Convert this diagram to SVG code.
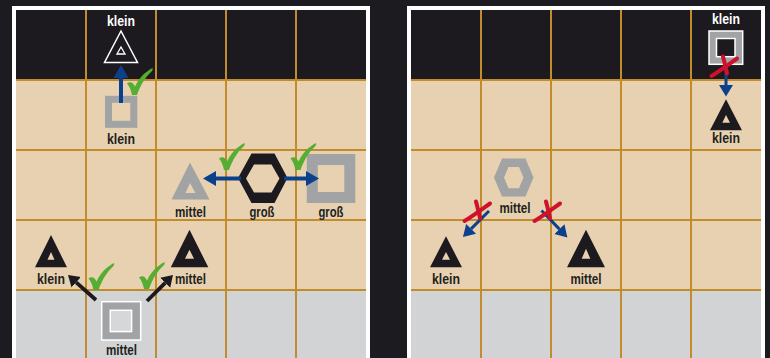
<svg xmlns="http://www.w3.org/2000/svg" width="770" height="358" viewBox="0 0 770 358">
<style>
.bg{fill:#1c1b20}
.frame{fill:#ffffff}
.dark{fill:#1c1a1f}
.tan{fill:#e7d1b0}
.lgray{fill:#d2d3d5}
.grid{stroke:#c28b2c;stroke-width:2;fill:none}
.lbl{font-family:"Liberation Sans",Arial,sans-serif;font-weight:bold;font-size:14.5px;text-anchor:middle;fill:#231f20}
.lblw{fill:#ffffff}
.blk{fill:#1c1a1f;fill-rule:evenodd}
.gry{fill:#a2a3a5;fill-rule:evenodd}
.sqg{fill:none;stroke:#a2a3a5}
.blue{stroke:#0b408c;fill:none}
.black{stroke:#1c1a1f;fill:none}
.chk{fill:#55ad32}
.rx{stroke:#d0112b;stroke-width:4;stroke-linecap:round;fill:none}
</style>
<defs>
<marker id="hb" markerUnits="userSpaceOnUse" markerWidth="14" markerHeight="16" refX="0" refY="0" viewBox="0 -8 14 16" orient="auto"><path d="M0,-7.5 L13,0 L0,7.5 Z" fill="#0b408c"/></marker>
<marker id="hbs" markerUnits="userSpaceOnUse" markerWidth="14" markerHeight="16" refX="0" refY="0" viewBox="0 -8 14 16" orient="auto"><path d="M0,-7 L11.5,0 L0,7 Z" fill="#0b408c"/></marker>
<marker id="hk" markerUnits="userSpaceOnUse" markerWidth="14" markerHeight="16" refX="0" refY="0" viewBox="0 -8 14 16" orient="auto"><path d="M0,-7 L11,0 L0,7 Z" fill="#1c1a1f"/></marker>
<path id="check" d="M0,15.5 C3,13 6,14 8,18.5 C12,10 18,4 25.5,0 C26,1.5 25.5,2.5 24.5,3.5 C18.5,9 13.5,17 10,27 L5,27 C4,22 2.5,18.5 0,15.5 Z"/>
<g id="xmark"><path d="M-13,8.5 C-4,3 4,-3 12.5,-9"/><path d="M-1.5,-11 C0,-5 1.5,0 2.5,6"/></g>
</defs>
<rect class="bg" x="0" y="0" width="770" height="358"/>

<!-- left panel board -->
<g id="board-left">
<rect class="frame" x="12" y="6" width="358" height="352"/>
<rect class="dark" x="16" y="10" width="350" height="70"/>
<rect class="tan" x="16" y="80" width="350" height="210"/>
<rect class="lgray" x="16" y="290" width="350" height="68"/>
<path class="grid" d="M86,10V358M156,10V358M226,10V358M296,10V358M16,80H366M16,150H366M16,220H366M16,290H366"/>
</g>

<!-- right panel board -->
<g id="board-right">
<rect class="frame" x="407" y="6" width="358" height="352"/>
<rect class="dark" x="411" y="10" width="350" height="70"/>
<rect class="tan" x="411" y="80" width="350" height="210"/>
<rect class="lgray" x="411" y="290" width="350" height="68"/>
<path class="grid" d="M481,10V358M551,10V358M621,10V358M691,10V358M411,80H761M411,150H761M411,220H761M411,290H761"/>
</g>

<!-- left panel nodes -->
<g id="L-top-triangle">
<polygon points="121,31 104.5,62.5 137.5,62.5" fill="#1c1a1f" stroke="#ffffff" stroke-width="1.5"/>
<polygon points="121,47 117,54 125,54" fill="none" stroke="#ffffff" stroke-width="1.3"/>
<text class="lbl lblw" x="121" y="25.5" textLength="28" lengthAdjust="spacingAndGlyphs">klein</text>
</g>
<g id="L-small-square">
<rect class="sqg" x="108.5" y="99.3" width="25.3" height="25" stroke-width="7"/>
<text class="lbl" x="121" y="144" textLength="28" lengthAdjust="spacingAndGlyphs">klein</text>
</g>
<g id="L-gray-triangle">
<path class="gry" d="M190,162.5 L171.5,199.5 L209.5,199.5 Z M190,183 L185.5,193 L195.5,193 Z"/>
<text class="lbl" x="190.5" y="217" textLength="31" lengthAdjust="spacingAndGlyphs">mittel</text>
</g>
<g id="L-hexagon">
<path class="blk" d="M238,178 L251.5,153.5 L274.5,153.5 L287.5,178 L274.5,203 L251.5,203 Z M246,178.5 L254,164.5 L271.5,164.5 L279.5,178.5 L271.5,192.5 L254,192.5 Z"/>
<text class="lbl" x="262" y="217" textLength="25" lengthAdjust="spacingAndGlyphs">groß</text>
</g>
<g id="L-big-square">
<rect class="sqg" x="312.3" y="159.5" width="37.5" height="38" stroke-width="11"/>
<text class="lbl" x="331" y="217" textLength="25" lengthAdjust="spacingAndGlyphs">groß</text>
</g>
<g id="L-small-triangle">
<path class="blk" d="M51,235 L35,267.3 L67,267.3 Z M51,252 L47.5,259.7 L54.5,259.7 Z"/>
<text class="lbl" x="51" y="283.7" textLength="28" lengthAdjust="spacingAndGlyphs">klein</text>
</g>
<g id="L-mid-triangle">
<path class="blk" d="M189.5,229.7 L170.8,267.3 L208.3,267.3 Z M189.5,249.7 L185,258.7 L194,258.7 Z"/>
<text class="lbl" x="190.5" y="283.7" textLength="31" lengthAdjust="spacingAndGlyphs">mittel</text>
</g>
<g id="L-bottom-square">
<rect x="101.7" y="301.7" width="39" height="38.3" fill="#a2a3a5" stroke="#ffffff" stroke-width="1.5"/>
<rect x="110.3" y="310.3" width="21.3" height="21.3" fill="#d6d7d9" stroke="#ffffff" stroke-width="1.5"/>
<text class="lbl" x="121.5" y="355" textLength="31" lengthAdjust="spacingAndGlyphs">mittel</text>
</g>

<!-- right panel nodes -->
<g id="R-top-square">
<rect x="709" y="31" width="33.7" height="33.3" fill="#a2a3a5" stroke="#ffffff" stroke-width="1.5"/>
<rect x="716.5" y="38.5" width="18.5" height="18.2" fill="#1c1a1f" stroke="#ffffff" stroke-width="1.5"/>
<text class="lbl lblw" x="726" y="24" textLength="28" lengthAdjust="spacingAndGlyphs">klein</text>
</g>
<g id="R-top-triangle">
<path class="blk" d="M726,99.3 L710,130.3 L742,130.3 Z M726,115 L722.3,122.7 L730,122.7 Z"/>
<text class="lbl" x="726" y="143.3" textLength="28" lengthAdjust="spacingAndGlyphs">klein</text>
</g>
<g id="R-hexagon">
<path class="gry" d="M494,177.5 L502,158.5 L525.5,158.5 L533.5,177.5 L525.5,196.5 L502,196.5 Z M504,177.5 L508.5,167 L519,167 L523.5,177.5 L519,188.3 L508.5,188.3 Z"/>
<text class="lbl" x="515" y="213" textLength="31" lengthAdjust="spacingAndGlyphs">mittel</text>
</g>
<g id="R-small-triangle">
<path class="blk" d="M446,236.3 L430,267.3 L462,267.3 Z M446,252 L442,259.7 L450,259.7 Z"/>
<text class="lbl" x="446" y="283.7" textLength="28" lengthAdjust="spacingAndGlyphs">klein</text>
</g>
<g id="R-mid-triangle">
<path class="blk" d="M586,229.7 L567,267.3 L605,267.3 Z M586,248.7 L581.7,258.7 L590.3,258.7 Z"/>
<text class="lbl" x="586" y="283.7" textLength="31" lengthAdjust="spacingAndGlyphs">mittel</text>
</g>

<!-- connectors -->
<g id="connectors">
<line class="blue" x1="121" y1="103" x2="121" y2="78" stroke-width="4" marker-end="url(#hb)"/>
<line class="blue" x1="241" y1="178.5" x2="216" y2="178.5" stroke-width="4" marker-end="url(#hb)"/>
<line class="blue" x1="284" y1="178.5" x2="306" y2="178.5" stroke-width="4" marker-end="url(#hb)"/>
<line class="black" x1="96" y1="300" x2="76.2" y2="282.3" stroke-width="3.8" marker-end="url(#hk)"/>
<line class="black" x1="147" y1="301" x2="165.2" y2="282.8" stroke-width="3.8" marker-end="url(#hk)"/>
<line class="blue" x1="726" y1="64" x2="726" y2="85" stroke-width="3" marker-end="url(#hbs)"/>
<line class="blue" x1="489" y1="211" x2="471.1" y2="228.9" stroke-width="3" marker-end="url(#hbs)"/>
<line class="blue" x1="541.5" y1="210.5" x2="559.4" y2="229.1" stroke-width="3" marker-end="url(#hbs)"/>
</g>

<!-- marks -->
<g id="marks">
<use href="#check" class="chk" x="127" y="68"/>
<use href="#check" class="chk" x="219" y="143"/>
<use href="#check" class="chk" x="290.5" y="143"/>
<use href="#check" class="chk" x="88.5" y="263"/>
<use href="#check" class="chk" x="139" y="262"/>
<use href="#xmark" class="rx" transform="translate(724.5,67.5)"/>
<use href="#xmark" class="rx" transform="translate(477.5,212.5)"/>
<use href="#xmark" class="rx" transform="translate(547.5,212.5)"/>
</g>
</svg>
